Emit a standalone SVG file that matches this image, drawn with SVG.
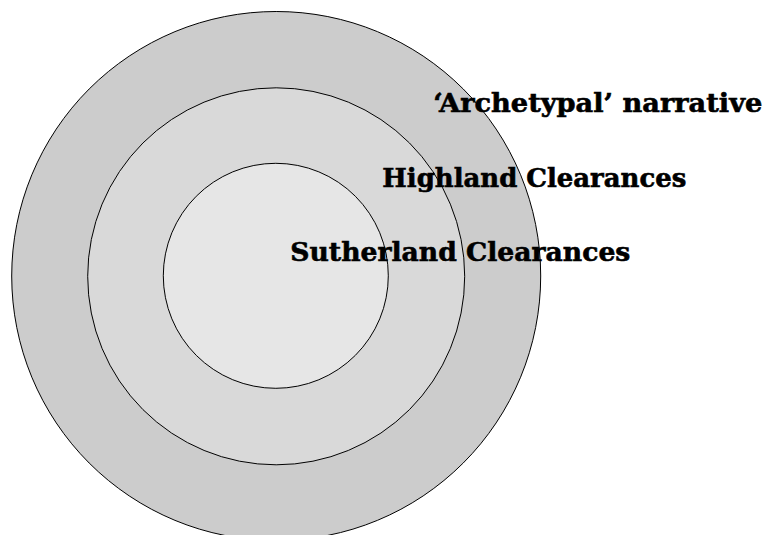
<svg xmlns="http://www.w3.org/2000/svg" width="771" height="535" viewBox="0 0 771 535">
<style>
.ring{stroke:#000;stroke-width:1}
.lbl{font-family:"DejaVu Serif","Liberation Serif",serif;font-weight:bold;font-size:26px;fill:#000;stroke:#000;stroke-width:0.6}
</style>
<rect width="771" height="535" fill="#fff"/>
<g id="outer"><circle class="ring" cx="276.2" cy="276" r="264.5" fill="#cccccc"/></g>
<g id="middle"><circle class="ring" cx="276.2" cy="276.3" r="188.5" fill="#d9d9d9"/></g>
<g id="inner"><circle class="ring" cx="275.8" cy="275.8" r="112.5" fill="#e6e6e6"/></g>
<g id="connectors"></g>
<g id="labels">
<text class="lbl" x="433.3" y="112.3" textLength="329" lengthAdjust="spacingAndGlyphs">‘Archetypal’ narrative</text>
<text class="lbl" x="382.3" y="187.3" textLength="304" lengthAdjust="spacingAndGlyphs">Highland Clearances</text>
<text class="lbl" x="290.3" y="261" textLength="340" lengthAdjust="spacingAndGlyphs">Sutherland Clearances</text>
</g>
</svg>
